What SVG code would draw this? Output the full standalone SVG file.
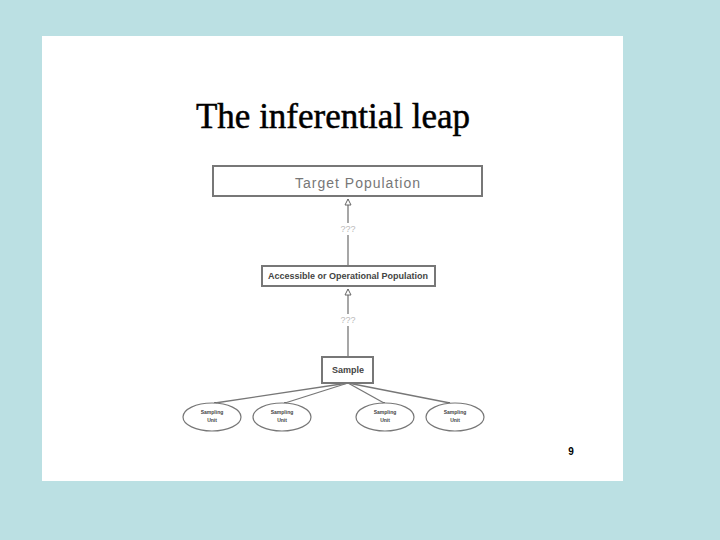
<svg xmlns="http://www.w3.org/2000/svg" width="720" height="540" viewBox="0 0 720 540">
<style>
.box{fill:#fff;stroke:#777;stroke-width:2}
.ell{fill:#fff;stroke:#777;stroke-width:1.2}
.con{stroke:#777;stroke-width:1.3;fill:none}
.q{font-family:"Liberation Sans",Arial,sans-serif;font-size:9px;fill:#bbb;text-anchor:middle}
.su{font-family:"Liberation Sans",Arial,sans-serif;font-size:5px;font-weight:bold;fill:#444;text-anchor:middle}
.tip{fill:#fff;stroke:#666;stroke-width:1}
</style>
<rect width="720" height="540" fill="#bbe0e3"/>
<rect x="42" y="36" width="581" height="445" fill="#fff"/>
<text x="333" y="128" font-family="'Liberation Serif','Times New Roman',serif" font-size="35" text-anchor="middle" fill="#000" stroke="#000" stroke-width="0.5">The inferential leap</text>
<g id="connectors">
<line class="con" x1="348" y1="265" x2="348" y2="199"/>
<path class="tip" d="M348,199 L351,205 L345,205 Z"/>
<line class="con" x1="348" y1="357" x2="348" y2="289"/>
<path class="tip" d="M348,289 L351,295 L345,295 Z"/>
<line class="con" x1="348" y1="383" x2="215" y2="403"/>
<line class="con" x1="348" y1="383" x2="285" y2="403"/>
<line class="con" x1="348" y1="383" x2="384" y2="403"/>
<line class="con" x1="348" y1="383" x2="450" y2="403"/>
<path class="tip" d="M215,402 L219,406 L212,406 Z" stroke-width="0.8"/>
<path class="tip" d="M285,402 L289,406 L282,406 Z" stroke-width="0.8"/>
<path class="tip" d="M384,402 L387,406 L380,406 Z" stroke-width="0.8"/>
<path class="tip" d="M449,402 L452,406 L445,406 Z" stroke-width="0.8"/>
<rect x="338" y="223" width="20" height="12" fill="#fff"/>
<text class="q" x="348" y="232">???</text>
<rect x="338" y="314" width="20" height="12" fill="#fff"/>
<text class="q" x="348" y="323">???</text>
</g>
<g id="target">
<rect class="box" x="213" y="166" width="269" height="30"/>
<text x="358" y="188" font-family="'Liberation Sans',Arial,sans-serif" font-size="14" letter-spacing="1" fill="#777" text-anchor="middle">Target Population</text>
</g>
<g id="accessible">
<rect class="box" x="262" y="266" width="173" height="20"/>
<text x="348" y="279" font-family="'Liberation Sans',Arial,sans-serif" font-size="9" font-weight="bold" fill="#444" text-anchor="middle">Accessible or Operational Population</text>
</g>
<g id="sample">
<rect class="box" x="322" y="357" width="51" height="26"/>
<text x="348" y="373" font-family="'Liberation Sans',Arial,sans-serif" font-size="9" font-weight="bold" fill="#444" text-anchor="middle">Sample</text>
</g>
<g id="unit1">
<ellipse class="ell" cx="212" cy="417" rx="29" ry="14"/>
<text class="su" x="212" y="414">Sampling</text><text class="su" x="212" y="422">Unit</text>
</g>
<g id="unit2">
<ellipse class="ell" cx="282" cy="417" rx="29" ry="14"/>
<text class="su" x="282" y="414">Sampling</text><text class="su" x="282" y="422">Unit</text>
</g>
<g id="unit3">
<ellipse class="ell" cx="385" cy="417" rx="29" ry="14"/>
<text class="su" x="385" y="414">Sampling</text><text class="su" x="385" y="422">Unit</text>
</g>
<g id="unit4">
<ellipse class="ell" cx="455" cy="417" rx="29" ry="14"/>
<text class="su" x="455" y="414">Sampling</text><text class="su" x="455" y="422">Unit</text>
</g>
<text x="571" y="455" font-family="'Liberation Sans',Arial,sans-serif" font-size="10" font-weight="bold" fill="#000" text-anchor="middle">9</text>
</svg>
